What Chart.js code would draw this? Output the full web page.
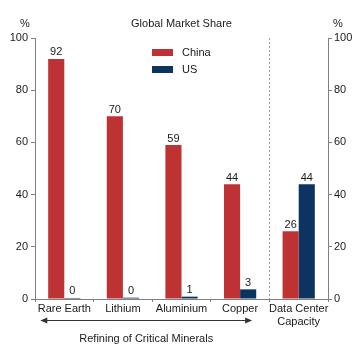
<!DOCTYPE html>
<html><head><meta charset="utf-8">
<script src="https://cdn.jsdelivr.net/npm/chart.js@4"></script>
<style>html,body{margin:0;padding:0;background:#fff;}#wrap{width:363px;height:353px;position:relative;}</style>
</head><body><div id="wrap"><canvas id="c" width="363" height="353"></canvas></div>
<script>
const categories = [["Rare Earth"], ["Lithium"], ["Aluminium"], ["Copper"], ["Data Center", "Capacity"]];
const chinaValues = [92, 70, 59, 44, 26];
const usValues = [0.4, 0.5, 0.9, 3.7, 44];
const chinaLabels = ["92", "70", "59", "44", "26"];
const usLabels = ["0", "0", "1", "3", "44"];
const yTicks = [0, 20, 40, 60, 80, 100];
const seriesNames = ["China", "US"];
const titleText = "Global Market Share";
const unitText = "%";
const groupText = "Refining of Critical Minerals";

const RED = "#BF3233", NAVY = "#0C3460", TXT = "#1a1a1a", AX = "#808080";
const FONT = "11px 'Liberation Sans', Arial, sans-serif";

const extras = {
  id: "extras",
  afterDatasetsDraw(chart) {
    const ctx = chart.ctx, ca = chart.chartArea, x = chart.scales.x;
    ctx.save();
    ctx.font = FONT; ctx.fillStyle = TXT;
    const labs = [chinaLabels, usLabels];
    chart.data.datasets.forEach((ds, di) => {
      chart.getDatasetMeta(di).data.forEach((bar, i) => {
        ctx.textAlign = "center"; ctx.textBaseline = "bottom";
        ctx.fillText(labs[di][i], bar.x, bar.y - 1);
      });
    });
    ctx.textBaseline = "middle"; ctx.textAlign = "center";
    ctx.fillText(titleText, (ca.left + ca.right) / 2, 24);
    ctx.fillText(unitText, 25, 24);
    ctx.fillText(unitText, 338, 24);
    const colors = [RED, NAVY];
    seriesNames.forEach((n, i) => {
      const yy = 49 + i * 17;
      ctx.fillStyle = colors[i];
      ctx.fillRect(152, yy, 21, 7);
      ctx.fillStyle = TXT; ctx.textAlign = "left";
      ctx.fillText(n, 182, yy + 4);
    });
    const sep = (x.getPixelForValue(3) + x.getPixelForValue(4)) / 2;
    ctx.strokeStyle = "#999"; ctx.lineWidth = 1; ctx.setLineDash([2, 2]);
    ctx.beginPath(); ctx.moveTo(Math.round(sep) + 0.5, ca.top); ctx.lineTo(Math.round(sep) + 0.5, ca.bottom); ctx.stroke();
    ctx.setLineDash([]);
    const ax0 = x.getPixelForValue(0) - 24, ax1 = x.getPixelForValue(3) + 12, ay = 320.5;
    ctx.strokeStyle = "#333"; ctx.fillStyle = "#333";
    ctx.beginPath(); ctx.moveTo(ax0 + 3, ay); ctx.lineTo(ax1 - 3, ay); ctx.stroke();
    ctx.beginPath(); ctx.moveTo(ax0, ay); ctx.lineTo(ax0 + 7, ay - 3); ctx.lineTo(ax0 + 7, ay + 3); ctx.closePath(); ctx.fill();
    ctx.beginPath(); ctx.moveTo(ax1, ay); ctx.lineTo(ax1 - 7, ay - 3); ctx.lineTo(ax1 - 7, ay + 3); ctx.closePath(); ctx.fill();
    ctx.fillStyle = TXT; ctx.textAlign = "center";
    ctx.fillText(groupText, (ax0 + ax1) / 2, 339);
    ctx.restore();
  }
};

new Chart(document.getElementById("c"), {
  type: "bar",
  data: {
    labels: categories,
    datasets: [
      { label: seriesNames[0], data: chinaValues, backgroundColor: RED, yAxisID: "y" },
      { label: seriesNames[1], data: usValues, backgroundColor: NAVY, yAxisID: "y" }
    ]
  },
  options: {
    responsive: false, animation: false,
    layout: { padding: { top: 38, left: 0, right: 0, bottom: 0 } },
    datasets: { bar: { categoryPercentage: 0.55, barPercentage: 1.0 } },
    plugins: { legend: { display: false }, tooltip: { enabled: false } },
    scales: {
      x: {
        grid: { display: true, drawOnChartArea: false, tickLength: 3, color: AX, offset: true },
        border: { color: AX },
        ticks: { color: TXT, font: { family: "'Liberation Sans', Arial, sans-serif", size: 11 }, padding: 0, maxRotation: 0, autoSkip: false },
        afterFit(s) { s.height = 54; }
      },
      y: {
        position: "left", min: 0, max: 100,
        afterBuildTicks(s) { s.ticks = yTicks.map(v => ({ value: v })); },
        grid: { drawOnChartArea: false, tickLength: 4, color: AX },
        border: { color: AX },
        ticks: { color: TXT, font: { family: "'Liberation Sans', Arial, sans-serif", size: 11 }, padding: 3 },
        afterFit(s) { s.width = 35; }
      },
      y2: {
        position: "right", min: 0, max: 100,
        afterBuildTicks(s) { s.ticks = yTicks.map(v => ({ value: v })); },
        grid: { drawOnChartArea: false, tickLength: 4, color: AX },
        border: { color: AX },
        ticks: { color: TXT, font: { family: "'Liberation Sans', Arial, sans-serif", size: 11 }, padding: 2 },
        afterFit(s) { s.width = 35; }
      }
    }
  },
  plugins: [extras]
});
</script></body></html>
